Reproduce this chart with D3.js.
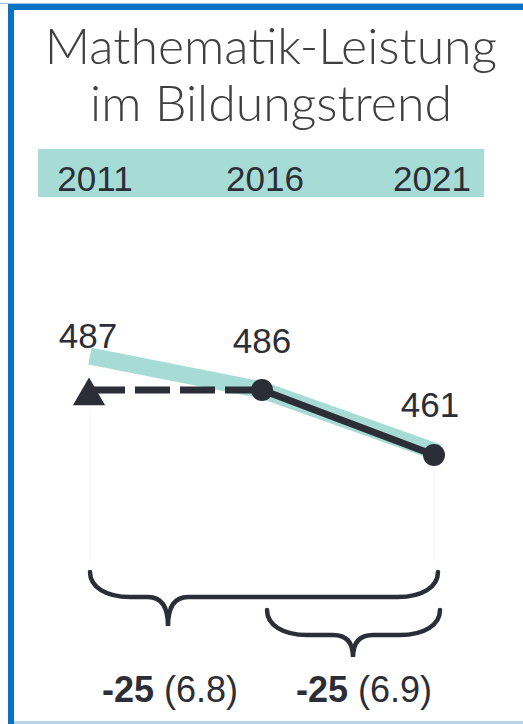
<!DOCTYPE html>
<html>
<head>
<meta charset="utf-8">
<script src="https://cdn.jsdelivr.net/npm/d3@7"></script>
<style>
  body { margin: 0; background: #fff; }
  svg { display: block; }
</style>
</head>
<body>
<div id="vis"></div>
<script>
'use strict';

// data
var years = ['2011', '2016', '2021'];
var scoreLabels = [487, 486, 461];          // numbers printed next to the points
var trendBand = [499, 486, 462];            // teal band
var linkedScores = [486, 486, 461];         // black line (2011 linked to 2016 level)
var titleLines = ['Mathematik-Leistung', 'im Bildungstrend'];
var changeDiff = [-25, -25];
var changeSE = ['6.8', '6.9'];
var changeFrom = ['2011', '2016'];
var changeTo = ['2021', '2021'];

var width = 523, height = 724;
var ink = '#2b2e37';
var teal = '#a7dcd6';

var svg = d3.select('#vis')
  .append('svg')
  .attr('width', width)
  .attr('height', height);

// frame
svg.append('rect').attr('x', 0).attr('y', 3).attr('width', width).attr('height', 1).attr('fill', '#9cc3e6');
svg.append('rect').attr('x', 8).attr('y', 4).attr('width', width - 8).attr('height', 6).attr('fill', '#0a72c4');
svg.append('rect').attr('x', 8).attr('y', 4).attr('width', 6).attr('height', height - 4).attr('fill', '#0a72c4');
svg.append('rect').attr('x', 14).attr('y', 721).attr('width', width - 14).attr('height', 3).attr('fill', '#b9d5ec');

// title
svg.selectAll('.title')
  .data(titleLines)
  .enter().append('text')
  .attr('class', 'title')
  .attr('x', 271)
  .attr('y', function(d, i) { return 64 + i * 57; })
  .attr('text-anchor', 'middle')
  .style('font-family', 'Lato, "Open Sans", sans-serif')
  .style('font-weight', 300)
  .style('font-size', '50px')
  .style('fill', '#404040')
  .text(function(d) { return d; });

// scales
var x = d3.scalePoint().domain(years).range([90, 434]);
var y = d3.scaleLinear().domain([461, 486]).range([455, 390]);

// year band
svg.append('rect')
  .attr('x', 38).attr('y', 149)
  .attr('width', 446).attr('height', 48)
  .attr('fill', teal);

svg.selectAll('.year')
  .data(years)
  .enter().append('text')
  .attr('class', 'year')
  .attr('x', function(d) { return x(d); })
  .attr('dx', function(d, i) { return [5, 3, -2][i]; })
  .attr('y', 191)
  .attr('text-anchor', 'middle')
  .style('font-family', '"Liberation Sans", Arial, sans-serif')
  .style('font-size', '35px')
  .style('fill', ink)
  .text(function(d) { return d; });

// faint guides
svg.append('line').attr('x1', x('2011')).attr('x2', x('2011')).attr('y1', 412).attr('y2', 562)
  .attr('stroke', '#f7f7f7').attr('stroke-width', 1.5);
svg.append('line').attr('x1', x('2021')).attr('x2', x('2021')).attr('y1', 470).attr('y2', 562)
  .attr('stroke', '#f7f7f7').attr('stroke-width', 1.5);

// teal trend band
var bandLine = d3.line()
  .x(function(d, i) { return x(years[i]) + (i === 2 ? 4 : 0); })
  .y(function(d) { return y(d); });

svg.append('path')
  .attr('d', bandLine(trendBand))
  .attr('fill', 'none')
  .attr('stroke', teal)
  .attr('stroke-width', 17)
  .attr('stroke-linejoin', 'round');

// dashed link 2011 -> 2016
var pts = linkedScores.map(function(v, i) { return [x(years[i]), y(v)]; });
svg.append('path')
  .attr('d', d3.line()(pts.slice(0, 2)))
  .attr('stroke', ink)
  .attr('stroke-width', 7)
  .attr('stroke-dasharray', '35,10')
  .attr('fill', 'none');

// solid 2016 -> 2021
svg.append('path')
  .attr('d', d3.line()(pts.slice(1)))
  .attr('stroke', ink)
  .attr('stroke-width', 7)
  .attr('fill', 'none');

// triangle marker for 2011
svg.append('path')
  .attr('d', d3.symbol().type(d3.symbolTriangle).size(450)())
  .attr('transform', 'translate(' + (pts[0][0] - 1) + ',' + (pts[0][1] + 6) + ')')
  .attr('fill', ink);

// dots
svg.selectAll('.dot')
  .data(pts.slice(1))
  .enter().append('circle')
  .attr('class', 'dot')
  .attr('cx', function(d) { return d[0]; })
  .attr('cy', function(d) { return d[1]; })
  .attr('r', 11)
  .attr('fill', ink);

// value labels
var labelY = [348, 353, 417];
svg.selectAll('.val')
  .data(scoreLabels)
  .enter().append('text')
  .attr('class', 'val')
  .attr('x', function(d, i) { return x(years[i]) + [-2, 0, -4][i]; })
  .attr('y', function(d, i) { return labelY[i]; })
  .attr('text-anchor', 'middle')
  .style('font-family', '"Liberation Sans", Arial, sans-serif')
  .style('font-size', '35px')
  .style('fill', ink)
  .text(function(d) { return d; });

// braces
function brace(x1, x2, xt, y0, y1, y2) {
  var r = 40, r2 = 20;
  return 'M' + x1 + ',' + y0 +
    'C' + x1 + ',' + (y1 - 10) + ' ' + (x1 + 16) + ',' + y1 + ' ' + (x1 + r) + ',' + y1 +
    'L' + (xt - r2) + ',' + y1 +
    'Q' + xt + ',' + y1 + ' ' + xt + ',' + y2 +
    'Q' + xt + ',' + y1 + ' ' + (xt + r2) + ',' + y1 +
    'L' + (x2 - r) + ',' + y1 +
    'C' + (x2 - 16) + ',' + y1 + ' ' + x2 + ',' + (y1 - 10) + ' ' + x2 + ',' + y0;
}

var braceTip = [168, 353];
var braceTop = [572, 610];
var braceDepth = [54, 47];
var labelX = [170, 364];

changeDiff.forEach(function(d, i) {
  var x1 = x(changeFrom[i]) + (i === 0 ? 0 : 5);
  var x2 = x(changeTo[i]) + 4 + i * 2;
  svg.append('path')
    .attr('d', brace(x1, x2, braceTip[i], braceTop[i], braceTop[i] + 25, braceTop[i] + braceDepth[i]))
    .attr('fill', 'none')
    .attr('stroke', ink)
    .attr('stroke-width', 4.5)
    .attr('stroke-linecap', 'round');

  var t = svg.append('text')
    .attr('x', labelX[i])
    .attr('y', 702)
    .attr('text-anchor', 'middle')
    .style('font-family', '"Liberation Sans", Arial, sans-serif')
    .style('font-size', '36px')
    .style('fill', ink);
  t.append('tspan').style('font-weight', 'bold').text(d);
  t.append('tspan').text(' (' + changeSE[i] + ')');
});
</script>
</body>
</html>
